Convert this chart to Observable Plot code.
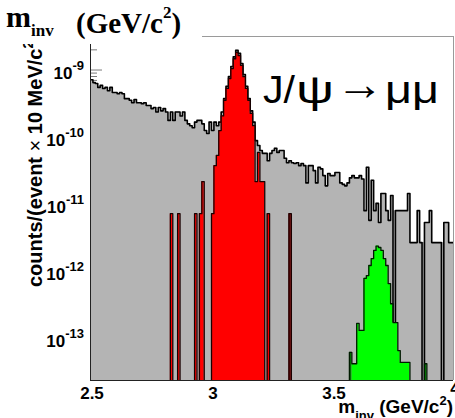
<!DOCTYPE html>
<html><head><meta charset="utf-8">
<script src="https://cdn.jsdelivr.net/npm/d3@7"></script>
<script src="https://cdn.jsdelivr.net/npm/@observablehq/plot@0.6"></script>
<style>
body{margin:0;background:#fff}
#chart{position:relative;width:455px;height:418px;overflow:hidden}
</style>
</head><body><div id="chart"></div>
<script>
// histogram binning: 10 MeV bins from 2.5 to 4.0 GeV
const binStart = 2.5, binWidth = 0.01;

// all events (grey), one value per bin
const total = [
7.3e-10,6.6e-10,6.4e-10,5.6e-10,6.0e-10,5.4e-10,5.6e-10,5.0e-10,5.6e-10,4.7e-10,
4.7e-10,4.5e-10,4.7e-10,4.5e-10,3.8e-10,3.8e-10,3.6e-10,3.3e-10,3.7e-10,3.3e-10,
3.3e-10,3.2e-10,3.3e-10,3.0e-10,3.0e-10,2.7e-10,2.8e-10,2.4e-10,2.8e-10,2.5e-10,
2.7e-10,2.4e-10,1.8e-10,2.4e-10,1.8e-10,2.4e-10,2.4e-10,2.1e-10,2.4e-10,1.8e-10,
1.6e-10,1.5e-10,1.4e-10,1.7e-10,1.8e-10,1.8e-10,1.6e-10,1.27e-10,1.15e-10,1.7e-10,
1.27e-10,1.7e-10,1.5e-10,1.7e-10,2.4e-10,3.8e-10,5.8e-10,8.1e-10,1.15e-9,1.6e-9,
2.0e-9,1.8e-9,1.27e-9,8.7e-10,5.8e-10,3.8e-10,2.5e-10,1.7e-10,9.0e-11,7.6e-11,
6.4e-11,5.8e-11,5.8e-11,4.5e-11,5.8e-11,6.4e-11,6.9e-11,6.0e-11,6.4e-11,6.4e-11,
4.9e-11,4.2e-11,4.5e-11,4.2e-11,4.1e-11,4.2e-11,3.8e-11,4.1e-11,3.8e-11,2.1e-11,
3.8e-11,3.8e-11,3.2e-11,2.1e-11,3.6e-11,3.4e-11,2.7e-11,1.9e-11,2.9e-11,2.7e-11,
2.7e-11,3.0e-11,3.0e-11,2.1e-11,2.0e-11,1.9e-11,2.1e-11,2.5e-11,2.7e-11,2.5e-11,
2.5e-11,2.7e-11,2.4e-11,8.1e-12,3.6e-11,5.8e-12,2.3e-11,8.1e-12,1.04e-11,5.4e-12,
1.46e-11,1.46e-11,8.1e-12,5.8e-12,1.36e-11,0,8.1e-12,8.1e-12,8.1e-12,8.1e-12,
8.1e-12,1.46e-11,2.7e-12,2.7e-12,2.7e-12,8.1e-12,2.7e-12,0,5.4e-12,5.4e-12,
8.1e-12,2.7e-12,2.7e-12,2.7e-12,2.7e-12,0,5.4e-12,5.4e-12,2.7e-12,2.7e-12
];

// J/psi (red): bin index and value
const jpsiBins = [33,36,43,45,46,50,51,52,53,54,55,56,57,58,59,60,61,62,63,64,65,66,67,68,69,70,71,73];
const jpsiVals = [7.3e-12,7.3e-12,7.3e-12,7.3e-12,2.2e-11,7.3e-12,3.8e-11,5.4e-11,1.27e-10,2.1e-10,
  3.6e-10,5.4e-10,7.6e-10,1.07e-9,1.5e-9,1.86e-9,1.67e-9,1.19e-9,8.1e-10,5.4e-10,
  3.6e-10,2.3e-10,1.5e-10,2.2e-11,6.0e-11,2.2e-11,2.2e-11,7.3e-12];
const jpsiDarkBins = [82];
const jpsiDarkVals = [7.3e-12];

// psi(2S) (green)
const psiBins = [108,109,110,111,112,113,114,115,116,117,118,119,120,121,122,123,124,125,126,127,128,129,130,131];
const psiVals = [4.2e-14,4.2e-14,1.68e-13,1.32e-13,1.32e-13,7.9e-13,8.7e-13,1.23e-12,1.56e-12,2.06e-12,
  2.4e-12,2.28e-12,2.06e-12,1.56e-12,1.23e-12,6.6e-13,3.3e-13,1.73e-13,1.73e-13,6.6e-14,
  4.4e-14,4.4e-14,4.4e-14,4.4e-14];
const psiDarkBins = [107,138];
const psiDarkVals = [6.2e-14,4.2e-14];

const xTicks = [2.5,3,3.5,4];
const xTickLabels = ["2.5","3","3.5","4"];
const yTicks = [1e-9,1e-10,1e-11,1e-12,1e-13];
const yTickExps = ["-9","-10","-11","-12","-13"];
const yDomain = [2.36e-14, 3.22e-9];

const N = total.length;
const yLow = yDomain[0] / 10;
const xAt = i => binStart + i * binWidth;
function full(bins, vals) { const a = new Array(N).fill(0); bins.forEach((b, k) => a[b] = vals[k]); return a; }
function steps(arr) {
  const pts = [];
  arr.forEach((v, i) => { const y = v > 0 ? v : yLow; pts.push({x: xAt(i), y}, {x: xAt(i + 1), y}); });
  return pts;
}
const totalFill = total.map((v, i) => v > 0 ? v : Math.min(total[i - 1] || Infinity, total[i + 1] || Infinity));
const red = full(jpsiBins, jpsiVals), redDark = full(jpsiDarkBins, jpsiDarkVals);
const grn = full(psiBins, psiVals), grnDark = full(psiDarkBins, psiDarkVals);
const redAll = red.map((v, i) => v || redDark[i]);
const grnAll = grn.map((v, i) => v || grnDark[i]);
const darkRects = (bins, vals) => bins.map((b, k) => ({x1: xAt(b), x2: xAt(b + 1), y: vals[k]}));

const plot = Plot.plot({
  width: 455, height: 418,
  marginLeft: 90, marginRight: 2, marginTop: 36, marginBottom: 38,
  x: {domain: [binStart, binStart + N * binWidth], axis: null},
  y: {type: "log", domain: yDomain, axis: null},
  marks: [
    Plot.areaY(steps(totalFill), {x: "x", y1: yDomain[0], y2: "y", fill: "#b4b4b4", clip: true}),
    Plot.line(steps(total), {x: "x", y: "y", stroke: "#000", strokeWidth: 1.6, clip: true}),
    Plot.areaY(steps(red), {x: "x", y1: yDomain[0], y2: "y", fill: "#ff0000", clip: true}),
    Plot.rect(darkRects(jpsiDarkBins, jpsiDarkVals), {x1: "x1", x2: "x2", y1: yDomain[0], y2: "y", fill: "#7a0000", clip: true}),
    Plot.line(steps(redAll), {x: "x", y: "y", stroke: "#1a0000", strokeWidth: 1.3, clip: true}),
    Plot.areaY(steps(grn), {x: "x", y1: yDomain[0], y2: "y", fill: "#00ff00", clip: true}),
    Plot.rect(darkRects(psiDarkBins, psiDarkVals), {x1: "x1", x2: "x2", y1: yDomain[0], y2: "y", fill: "#007a00", clip: true}),
    Plot.line(steps(grnAll), {x: "x", y: "y", stroke: "#001a00", strokeWidth: 1.3, clip: true}),
    Plot.ruleX([binStart + N * binWidth], {stroke: "#9a9a9a", strokeWidth: 1}),
    Plot.ruleY([yDomain[1]], {stroke: "#9a9a9a", strokeWidth: 1}),
    Plot.ruleX([binStart], {stroke: "#222", strokeWidth: 1}),
    Plot.ruleY([yDomain[0]], {stroke: "#222", strokeWidth: 1})
  ]
});
document.getElementById("chart").appendChild(plot);

const svg = d3.select(plot);
const xs = plot.scale("x"), ys = plot.scale("y");
const x0 = xs.apply(binStart);
// y ticks (inside the frame, below the histograms)
const minor = [];
for (let e = -14; e <= -9; e++) for (let m = 2; m <= 9; m++) { const v = m * Math.pow(10, e); if (v > yDomain[0] && v < yDomain[1]) minor.push(v); }
const tg = svg.insert("g", "g").attr("stroke", "#7a7a7a").attr("stroke-width", 1);
yTicks.forEach(v => tg.append("line").attr("x1", x0).attr("x2", x0 + 12).attr("y1", ys.apply(v)).attr("y2", ys.apply(v)));
minor.forEach(v => tg.append("line").attr("x1", x0).attr("x2", x0 + 7).attr("y1", ys.apply(v)).attr("y2", ys.apply(v)));

const sans = "'Liberation Sans', Arial, Helvetica, sans-serif";
const serif = "'Liberation Serif', 'Times New Roman', serif";
const txt = (sel) => sel.append("text").attr("fill", "#000").attr("font-family", sans);
// y tick labels
yTicks.forEach((v, k) => {
  const t = txt(svg).attr("x", x0 - 6).attr("y", ys.apply(v) + 9)
    .attr("text-anchor", "end").attr("font-weight", "bold").attr("font-size", 17);
  t.append("tspan").text("10");
  t.append("tspan").attr("font-size", 13).attr("dy", -9).text(yTickExps[k]);
});
// x tick labels (ROOT lifts the last label at the frame corner)
xTicks.forEach((v, k) => {
  txt(svg).attr("x", xs.apply(v) + 2).attr("y", k === xTicks.length - 1 ? 394 : 399).attr("text-anchor", "middle")
    .attr("font-weight", "bold").attr("font-size", 17).text(xTickLabels[k]);
});
// x axis title
const xt = txt(svg).attr("x", 453).attr("y", 413).attr("text-anchor", "end")
  .attr("font-weight", "bold").attr("font-size", 19);
xt.append("tspan").text("m");
xt.append("tspan").attr("font-size", 13).attr("dy", 7).text("inv");
xt.append("tspan").attr("dy", -7).text(" (GeV/c");
xt.append("tspan").attr("font-size", 13).attr("dy", -8).text("2");
xt.append("tspan").attr("dy", 8).text(")");
// y axis title
const yt = txt(svg).attr("transform", "translate(42,287) rotate(-90)").attr("text-anchor", "start")
  .attr("font-weight", "bold").attr("font-size", 20);
yt.append("tspan").text("counts/(event ");
yt.append("tspan").attr("font-weight", "normal").text("×");
yt.append("tspan").text(" 10 MeV/c");
yt.append("tspan").attr("font-size", 14).attr("dy", -9).text("2");
yt.append("tspan").attr("dy", 9).text(")");
// legend text  J/psi -> mu mu
const lg = svg.append("g").attr("fill", "#000").attr("font-family", sans).attr("font-size", 39).attr("text-anchor", "start");
lg.append("text").attr("x", 263).attr("y", 103).attr("textLength", 32).attr("lengthAdjust", "spacingAndGlyphs").text("J/");
lg.append("text").attr("x", 296).attr("y", 103).attr("textLength", 38).attr("lengthAdjust", "spacingAndGlyphs").text("ψ");
lg.append("text").attr("x", 336).attr("y", 100).attr("font-size", 46).attr("textLength", 48).attr("lengthAdjust", "spacingAndGlyphs").text("→");
lg.append("text").attr("x", 385).attr("y", 103).attr("textLength", 54).attr("lengthAdjust", "spacingAndGlyphs").text("μμ");
// title box
svg.append("rect").attr("x", 0).attr("y", 0).attr("width", 202).attr("height", 44).attr("fill", "#fff");
const tg2 = svg.append("g").attr("fill", "#000").attr("font-family", serif).attr("font-weight", "bold").attr("text-anchor", "start");
const t1 = tg2.append("text").attr("x", 6).attr("y", 27).attr("font-size", 30);
t1.append("tspan").text("m");
t1.append("tspan").attr("font-size", 17).attr("dy", 9).text("inv");
const t2 = tg2.append("text").attr("x", 76).attr("y", 33).attr("font-size", 29);
t2.append("tspan").text("(GeV/c");
t2.append("tspan").attr("font-size", 17).attr("dy", -15).text("2");
t2.append("tspan").attr("dy", 15).text(")");
</script>
</body></html>
